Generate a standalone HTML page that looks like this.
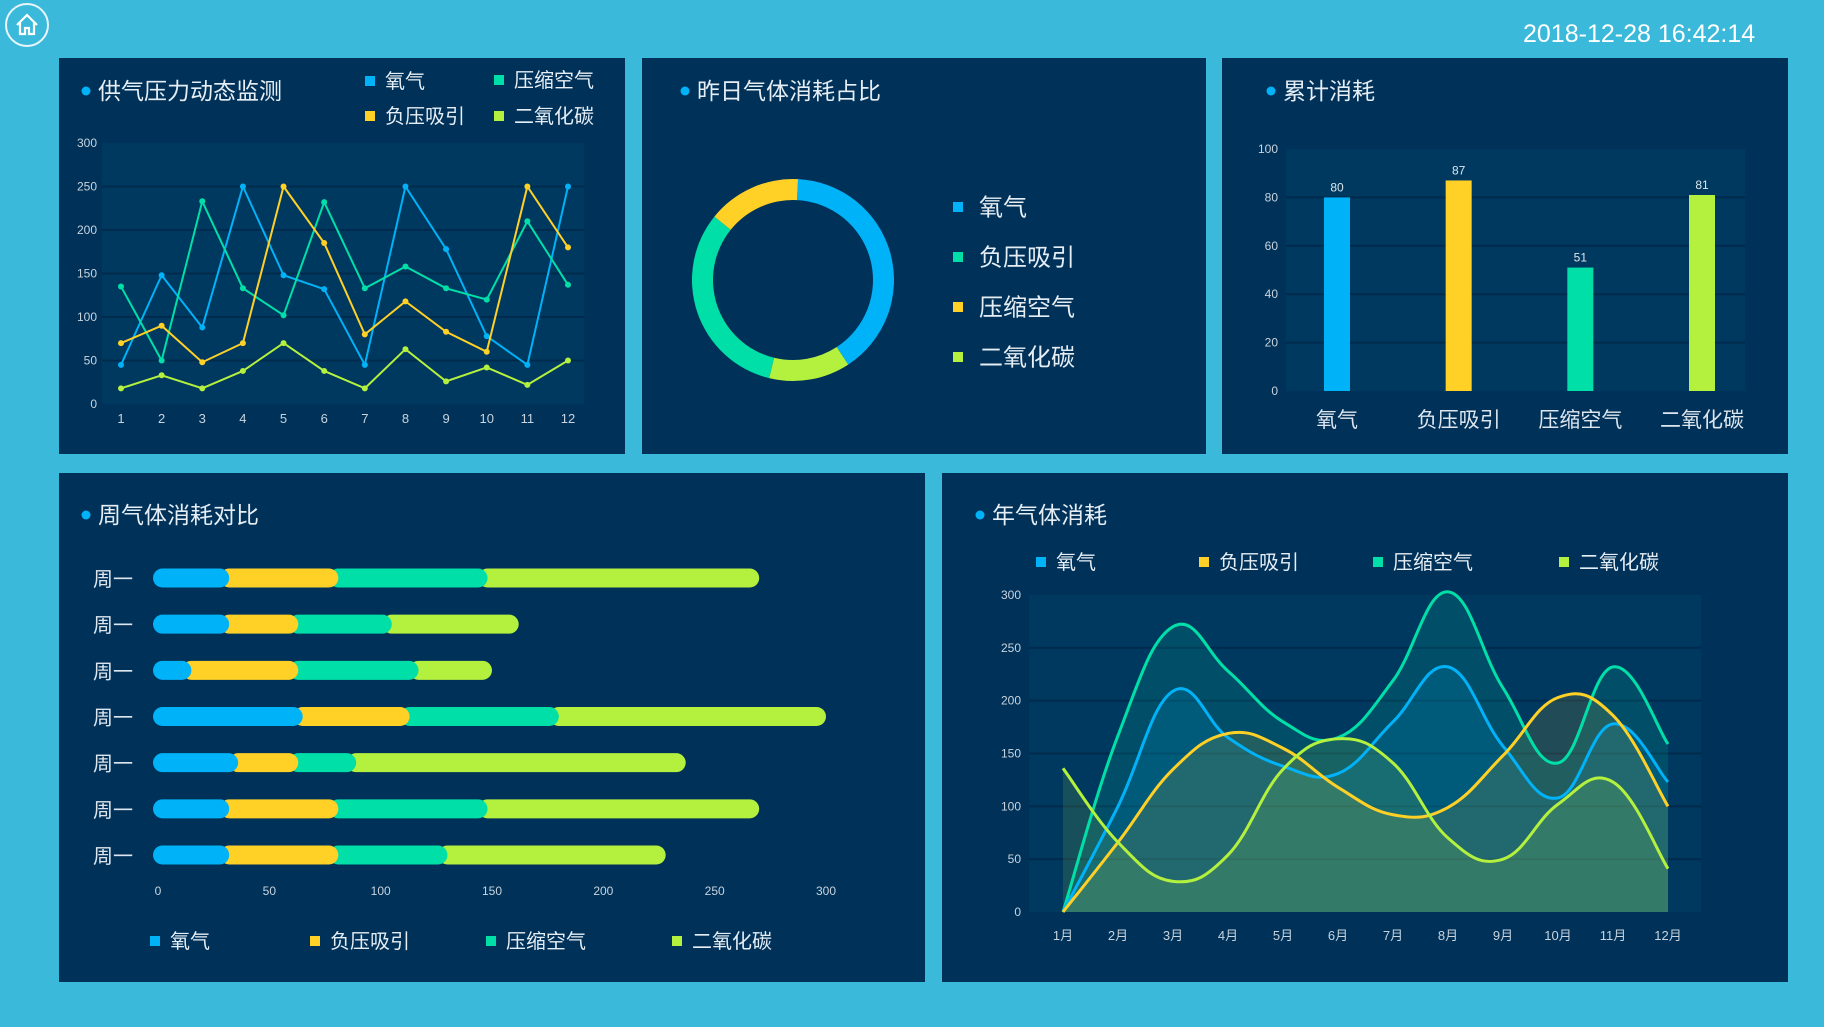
<!DOCTYPE html>
<html><head><meta charset="utf-8">
<style>
body{margin:0;width:1824px;height:1027px;background:#3bb9da;overflow:hidden;font-family:"Liberation Sans","Noto Sans CJK SC",sans-serif;position:relative}
.panel{position:absolute;background:#003159}
svg text{font-family:"Liberation Sans","Noto Sans CJK SC",sans-serif}
</style></head><body>
<div style="position:absolute;left:5px;top:3px;width:44px;height:44px;border:2px solid #e8f6fb;border-radius:50%;box-sizing:border-box">
<svg width="40" height="40" viewBox="0 0 40 40"><path d="M10 20 L20 10 L30 20 M13 18 V29 H18 V23 H22 V29 H27 V18" fill="none" stroke="#fff" stroke-width="2.2"/></svg></div>
<div style="position:absolute;left:1523px;top:20px;color:#fff;font-size:25px">2018-12-28 16:42:14</div>
<div class="panel" style="left:59px;top:58px;width:566px;height:396px"></div>
<div class="panel" style="left:642px;top:58px;width:564px;height:396px"></div>
<div class="panel" style="left:1222px;top:58px;width:566px;height:396px"></div>
<div class="panel" style="left:59px;top:473px;width:866px;height:509px"></div>
<div class="panel" style="left:942px;top:473px;width:846px;height:509px"></div>
<svg id="s" width="1824" height="1027" style="position:absolute;left:0;top:0"></svg>
<script>
const C={o:'#00b2f8',y:'#ffd026',t:'#00dfa8',g:'#b4f03e'};
// pressure chart
const months12=['1','2','3','4','5','6','7','8','9','10','11','12'];
const pOxygen=[45,148,88,250,148,132,45,250,178,78,45,250];
const pSuction=[70,90,48,70,250,185,80,118,83,60,250,180];
const pAir=[135,50,233,133,102,232,133,158,133,120,210,137];
const pCO2=[18,33,18,38,70,38,18,63,26,42,22,50];
const pTicks=[0,50,100,150,200,250,300];
// donut
const donutNames=['氧气','负压吸引','压缩空气','二氧化碳'];
const donutVals=[40,15,32,13];
// cumulative
const cumCats=['氧气','负压吸引','压缩空气','二氧化碳'];
const cumVals=[80,87,51,81];
const cumTicks=[0,20,40,60,80,100];
// weekly
const weekDays=['周一','周一','周一','周一','周一','周一','周一'];
const wOxygen=[32,32,15,65,36,32,32];
const wSuction=[49,31,48,48,27,49,49];
const wAir=[67,42,54,67,26,67,49];
const wCO2=[122,57,33,120,148,122,98];
const wTicks=[0,50,100,150,200,250,300];
// yearly
const yMonths=['1月','2月','3月','4月','5月','6月','7月','8月','9月','10月','11月','12月'];
const yOxygen=[0,100,209,165,138,131,180,232,157,108,178,123];
const ySuction=[0,66,135,169,155,118,92,99,148,203,186,100];
const yAir=[0,167,270,228,180,165,219,303,212,141,232,159];
const yCO2=[136,66,29,54,135,164,141,70,50,102,123,41];
const yTicks=[0,50,100,150,200,250,300];

const S=document.getElementById('s');const NS='http://www.w3.org/2000/svg';
function el(t,a,txt){const e=document.createElementNS(NS,t);for(const k in a)e.setAttribute(k,a[k]);if(txt!==undefined)e.textContent=txt;S.appendChild(e);return e;}
function title(x,y,t,name){const d=el('circle',{cx:x,cy:y,r:4.5,fill:'#00b2f8'});
const e=el('text',{x:x+12,y:y+8,fill:'#e6eef5','font-size':23},t);}
function legend(x,y,c,t,fs,name){const r=el('rect',{x:x,y:y-5,width:10,height:10,fill:c});
const e=el('text',{x:x+(fs>20?26:20),y:y+fs*0.36,fill:'#e6eef5','font-size':fs},t);}

// ---- panel1
title(86,91,'供气压力动态监测','pressure-title');
legend(365,81,C.o,'氧气',20,'legend-oxygen');legend(494,80,C.t,'压缩空气',20,'legend-air');
legend(365,116,C.y,'负压吸引',20,'legend-suction');legend(494,116,C.g,'二氧化碳',20,'legend-co2');
{const x0=102,x1=584,yT=143,yB=404;
const px=i=>121+i*(568-121)/11,py=v=>yB-v/300*(yB-yT);
let r=el('rect',{x:x0,y:yT,width:x1-x0,height:yB-yT,fill:'#00395f'});
pTicks.forEach(t=>{if(t>0&&t<300){let g=el('line',{x1:x0,x2:x1,y1:py(t),y2:py(t),stroke:'#002a4e','stroke-width':2});}
let e=el('text',{x:97,y:py(t)+4,fill:'#c8d4de','font-size':12,'text-anchor':'end'},t);});
months12.forEach((m,i)=>{let e=el('text',{x:px(i),y:423,fill:'#c8d4de','font-size':13,'text-anchor':'middle'},m);});
[[pOxygen,C.o,'oxygen'],[pAir,C.t,'air'],[pSuction,C.y,'suction'],[pCO2,C.g,'co2']].forEach(([d,c,n])=>{
let l=el('polyline',{points:d.map((v,i)=>px(i)+','+py(v)).join(' '),fill:'none',stroke:c,'stroke-width':2});
d.forEach((v,i)=>{let p=el('circle',{cx:px(i),cy:py(v),r:3,fill:c});});});}

// ---- panel2 donut
title(685,91,'昨日气体消耗占比','ratio-title');
{const cx=793,cy=280,R=101,ri=80;const order=[0,3,2,1];
const tot=donutVals.reduce((a,b)=>a+b,0);let a=0.05;
order.forEach(k=>{const a0=a,a1=a+donutVals[k]/tot*2*Math.PI;a=a1;
const P=(r,t)=>[cx+r*Math.sin(t),cy-r*Math.cos(t)];const lg=a1-a0>Math.PI?1:0;
const [x1,y1]=P(R,a0),[x2,y2]=P(R,a1),[x3,y3]=P(ri,a1),[x4,y4]=P(ri,a0);
let p=el('path',{d:`M${x1},${y1}A${R},${R} 0 ${lg} 1 ${x2},${y2}L${x3},${y3}A${ri},${ri} 0 ${lg} 0 ${x4},${y4}Z`,fill:[C.o,C.y,C.t,C.g][k]});
});
const lc=[C.o,C.t,C.y,C.g],ln=['氧气','负压吸引','压缩空气','二氧化碳'];
ln.forEach((t,i)=>legend(953,207+i*50,lc[i],t,24,'donut-legend-'+i));}

// ---- panel3 bars
title(1271,91,'累计消耗','cumulative-title');
{const x0=1286,x1=1745,yT=149,yB=391;const py=v=>yB-v/100*(yB-yT);const cols=[C.o,C.y,C.t,C.g];
let r=el('rect',{x:x0,y:yT,width:x1-x0,height:yB-yT,fill:'#00395f'});
cumTicks.forEach(t=>{if(t>0&&t<100){let g=el('line',{x1:x0,x2:x1,y1:py(t),y2:py(t),stroke:'#002a4e','stroke-width':2});}
let e=el('text',{x:1278,y:py(t)+4,fill:'#c8d4de','font-size':12,'text-anchor':'end'},t);});
const bx=i=>1337+i*(1702-1337)/3;
cumVals.forEach((v,i)=>{let b=el('rect',{x:bx(i)-13,y:py(v),width:26,height:yB-py(v),fill:cols[i]});
let e=el('text',{x:bx(i),y:py(v)-6,fill:'#dde6ee','font-size':12,'text-anchor':'middle'},v);
let c=el('text',{x:bx(i),y:427,fill:'#dde6ee','font-size':21,'text-anchor':'middle'},cumCats[i]);});}

// ---- panel4 weekly
title(86,515,'周气体消耗对比','weekly-title');
{const px=v=>158+v/300*(826-158);const rowY=i=>578+i*(855-578)/6;const h=19;
wTicks.forEach(t=>{let e=el('text',{x:px(t),y:895,fill:'#c8d4de','font-size':12,'text-anchor':'middle'},t);});
weekDays.forEach((d,i)=>{const y=rowY(i);let e=el('text',{x:93,y:y+8,fill:'#dde6ee','font-size':20},d);
const segs=[[wOxygen[i],C.o],[wSuction[i],C.y],[wAir[i],C.t],[wCO2[i],C.g]];let acc=0;
const ends=[];segs.forEach(s=>{acc+=s[0];ends.push(acc);});
for(let k=3;k>=0;k--){const st=k?ends[k-1]:0;const xs=k?px(st)-h/2:px(0)-5,xe=px(ends[k]);
let r=el('rect',{x:xs,y:y-h/2,width:xe-xs,height:h,rx:h/2,fill:segs[k][1]});}});
const lx=[150,310,486,672],lt=['氧气','负压吸引','压缩空气','二氧化碳'],lc=[C.o,C.y,C.t,C.g];
lt.forEach((t,i)=>legend(lx[i],941,lc[i],t,20,'weekly-legend-'+i));}

// ---- panel5 yearly
title(980,515,'年气体消耗','yearly-title');
{const lx=[1036,1199,1373,1559],lt=['氧气','负压吸引','压缩空气','二氧化碳'],lc=[C.o,C.y,C.t,C.g];
lt.forEach((t,i)=>legend(lx[i],562,lc[i],t,20,'yearly-legend-'+i));
const x0=1029,x1=1701,yT=595,yB=912;const px=i=>1063+i*(1668-1063)/11,py=v=>yB-v/300*(yB-yT);
let r=el('rect',{x:x0,y:yT,width:x1-x0,height:yB-yT,fill:'#00395f'});
yTicks.forEach(t=>{if(t>0&&t<300){let g=el('line',{x1:x0,x2:x1,y1:py(t),y2:py(t),stroke:'#002a4e','stroke-width':2});}
let e=el('text',{x:1021,y:py(t)+4,fill:'#c8d4de','font-size':12,'text-anchor':'end'},t);});
yMonths.forEach((m,i)=>{let e=el('text',{x:px(i),y:940,fill:'#c8d4de','font-size':13,'text-anchor':'middle'},m);});
function curve(d){const pts=d.map((v,i)=>[px(i),py(v)]);let s=`M${pts[0][0]},${pts[0][1]}`;
for(let i=0;i<pts.length-1;i++){const p0=pts[i-1]||pts[i],p1=pts[i],p2=pts[i+1],p3=pts[i+2]||p2;const k=0.2;
s+=`C${p1[0]+(p2[0]-p0[0])*k},${p1[1]+(p2[1]-p0[1])*k} ${p2[0]-(p3[0]-p1[0])*k},${p2[1]-(p3[1]-p1[1])*k} ${p2[0]},${p2[1]}`;}return s;}
const ser=[[yAir,C.t,'air'],[yOxygen,C.o,'oxygen'],[ySuction,C.y,'suction'],[yCO2,C.g,'co2']];
ser.forEach(([d,c,n])=>{let a=el('path',{d:curve(d)+`L${px(11)},${yB}L${px(0)},${yB}Z`,fill:c,'fill-opacity':0.13});});
ser.forEach(([d,c,n])=>{let l=el('path',{d:curve(d),fill:'none',stroke:c,'stroke-width':3});});}
</script>
</body></html>
